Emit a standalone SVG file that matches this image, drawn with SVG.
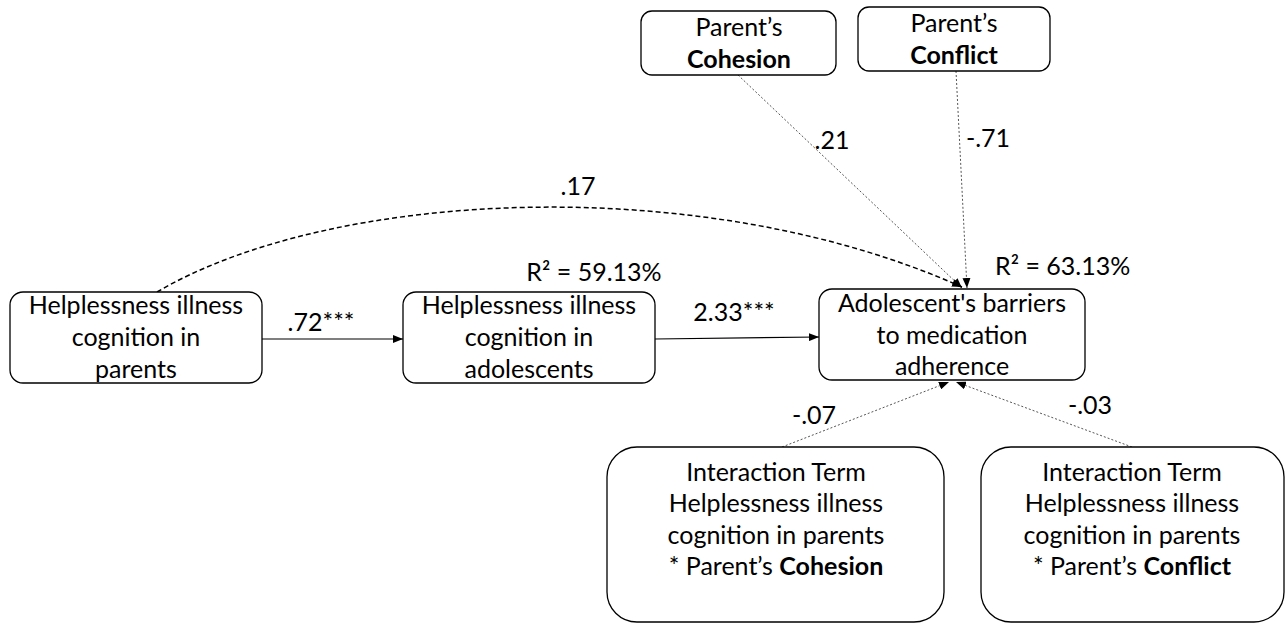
<svg xmlns="http://www.w3.org/2000/svg" width="1287" height="624" viewBox="0 0 1287 624">
<style>
.box{fill:#fff;stroke:#000;stroke-width:1.3}
text{font-family:Lato,"Liberation Sans",sans-serif;font-size:25px;fill:#000;text-anchor:middle}
.b{font-weight:bold}
.l{text-anchor:start}
.solid{stroke:#000;stroke-width:1.2;fill:none}
.dash{stroke:#000;stroke-width:1.5;fill:none;stroke-dasharray:5 3}
.dot{stroke:#555;stroke-width:1;fill:none;stroke-dasharray:2 2}
</style>
<defs>
<marker id="ah" viewBox="0 0 10 8" refX="10" refY="4" markerWidth="10" markerHeight="8" markerUnits="userSpaceOnUse" orient="auto">
<path d="M0,0 L10,4 L0,8 Z" fill="#000"/>
</marker>
</defs>
<rect width="1287" height="624" fill="#fff"/>
<g id="connectors">
<path class="solid" d="M262,339 L403,339" marker-end="url(#ah)"/>
<path class="solid" d="M655,339 L819,337" marker-end="url(#ah)"/>
<path class="dash" d="M157,292 C330,190 700,170 962,287" marker-end="url(#ah)"/>
<path class="dot" d="M738,75 L962,288" marker-end="url(#ah)"/>
<path class="dot" d="M956,71 L967,288" marker-end="url(#ah)"/>
<path class="dot" d="M782,447 L949,382" marker-end="url(#ah)"/>
<path class="dot" d="M1132,447 L956,382" marker-end="url(#ah)"/>
</g>
<g id="labels">
<text x="321" y="331">.72***</text>
<text x="734" y="321">2.33***</text>
<text x="578" y="195">.17</text>
<text x="594" y="281">R² = 59.13%</text>
<text x="995" y="275" class="l">R² = 63.13%</text>
<text x="832" y="149">.21</text>
<text x="988" y="147">-.71</text>
<text x="814" y="424">-.07</text>
<text x="1090" y="414">-.03</text>
</g>
<g id="n-parents">
<rect class="box" x="10" y="292" width="252" height="91" rx="13"/>
<text x="136" y="314">Helplessness illness</text>
<text x="136" y="346">cognition in</text>
<text x="136" y="378">parents</text>
</g>
<g id="n-adolescents">
<rect class="box" x="403" y="292" width="252" height="91" rx="13"/>
<text x="529" y="314">Helplessness illness</text>
<text x="529" y="346">cognition in</text>
<text x="529" y="378">adolescents</text>
</g>
<g id="n-barriers">
<rect class="box" x="819" y="289" width="266" height="91" rx="13"/>
<text x="952" y="312">Adolescent's barriers</text>
<text x="952" y="344">to medication</text>
<text x="952" y="375">adherence</text>
</g>
<g id="n-cohesion">
<rect class="box" x="641" y="11" width="195" height="64" rx="11"/>
<text x="739" y="36">Parent’s</text>
<text x="739" y="68" class="b">Cohesion</text>
</g>
<g id="n-conflict">
<rect class="box" x="858" y="7" width="192" height="64" rx="11"/>
<text x="954" y="32">Parent’s</text>
<text x="954" y="64" class="b">Conflict</text>
</g>
<g id="n-int-cohesion">
<rect class="box" x="607" y="447" width="337" height="175" rx="30"/>
<text x="776" y="481">Interaction Term</text>
<text x="776" y="512">Helplessness illness</text>
<text x="776" y="544">cognition in parents</text>
<text x="776" y="575">* Parent’s <tspan class="b">Cohesion</tspan></text>
</g>
<g id="n-int-conflict">
<rect class="box" x="981" y="447" width="303" height="175" rx="30"/>
<text x="1132" y="481">Interaction Term</text>
<text x="1132" y="512">Helplessness illness</text>
<text x="1132" y="544">cognition in parents</text>
<text x="1132" y="575">* Parent’s <tspan class="b">Conflict</tspan></text>
</g>
</svg>
